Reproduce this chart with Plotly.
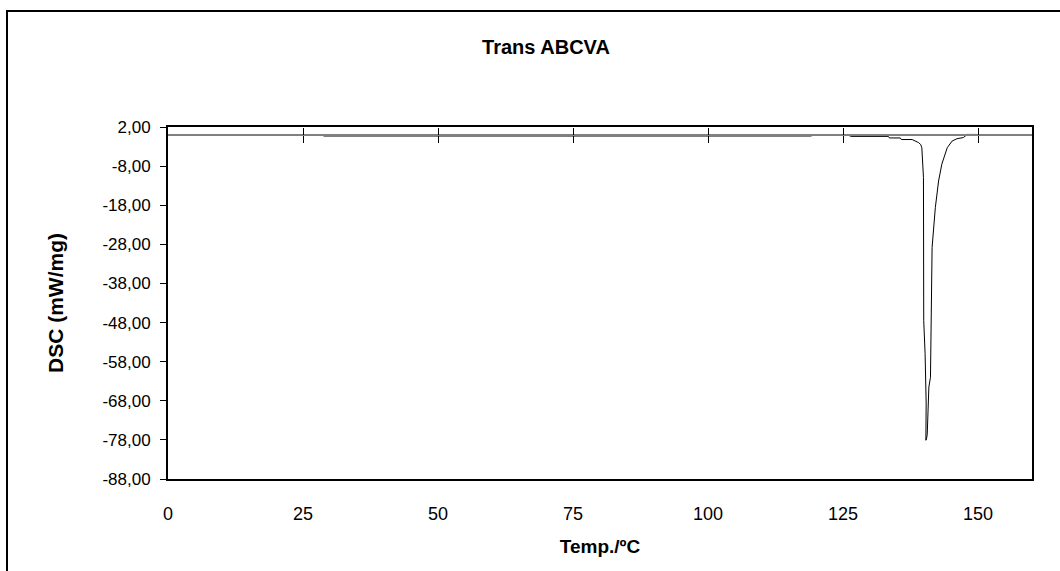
import plotly.graph_objects as go

# DSC curve (Temp in °C, DSC in mW/mg)
temp = [28.8, 40, 60, 80, 100, 119.0, 119.6, 126.0, 126.5, 130.0, 133.4, 133.6,
        135.6, 135.8, 137.8, 139.0, 139.4, 139.6, 139.9, 139.95, 140.2, 140.4,
        140.35, 140.5, 140.6, 140.9, 141.2, 141.5, 142.1, 142.7, 143.3, 144.3,
        145.2, 146.1, 147.3, 148.0, 149.8]
dsc = [-0.3, -0.3, -0.3, -0.3, -0.3, -0.3, -0.1, -0.1, -0.4, -0.4, -0.4, -0.8,
       -0.8, -1.2, -1.2, -2.0, -2.5, -3.3, -10.9, -47.5, -55.9, -68.6,
       -78.1, -77.5, -76.5, -64.5, -62.0, -28.8, -18.6, -11.8, -7.5, -3.3,
       -1.6, -1.0, -0.7, 0.1, 0.1]

x_ticks = [0, 25, 50, 75, 100, 125, 150]
x_cross_ticks = [25, 50, 75, 100, 125, 150]
y_ticks = [2, -8, -18, -28, -38, -48, -58, -68, -78, -88]
y_labels = ["2,00", "-8,00", "-18,00", "-28,00", "-38,00", "-48,00",
            "-58,00", "-68,00", "-78,00", "-88,00"]

title_text = "Trans ABCVA"
x_title = "Temp./ºC"
y_title = "DSC (mW/mg)"

FONT = "Liberation Sans, Arial, sans-serif"
x_range = [0, 160]
y_range = [-88, 2]
cross_pos = (0 - y_range[0]) / (y_range[1] - y_range[0])

fig = go.Figure()
fig.add_trace(go.Scatter(x=temp, y=dsc, mode="lines",
                         line=dict(color="black", width=1), showlegend=False,
                         hoverinfo="x+y"))
# empty traces so the crossing axes are bound
fig.add_trace(go.Scatter(x=[], y=[], xaxis="x2", yaxis="y", showlegend=False))
fig.add_trace(go.Scatter(x=[], y=[], xaxis="x3", yaxis="y", showlegend=False))

W, H = 1060, 571
L, R, T, B = 168, 28, 127, 92
pw = W - L - R
ph = H - T - B

fig.update_layout(
    width=W, height=H, autosize=False,
    margin=dict(l=L, r=R, t=T, b=B),
    paper_bgcolor="white", plot_bgcolor="white",
    font=dict(family=FONT, size=17, color="black"),
    title=dict(text=title_text, x=546 / W, xanchor="center",
               y=1 - 47 / H, yanchor="middle",
               font=dict(family=FONT, size=20, color="black", weight="bold")),
    xaxis=dict(range=x_range, tickvals=x_ticks, ticks="", showgrid=False,
               zeroline=False, showline=True, linecolor="black", linewidth=2,
               mirror=True, ticklabelstandoff=17,
               tickfont=dict(family=FONT, size=18),
               title=dict(text=x_title, standoff=17,
                          font=dict(family=FONT, size=19, weight="bold"))),
    xaxis2=dict(range=x_range, overlaying="x", anchor="free", position=cross_pos,
                side="bottom", tickvals=x_cross_ticks, ticks="outside", ticklen=7,
                tickwidth=1, tickcolor="black", showticklabels=False,
                showgrid=False, zeroline=False, showline=True,
                linecolor="#808080", linewidth=2),
    xaxis3=dict(range=x_range, overlaying="x", anchor="free", position=cross_pos,
                side="top", tickvals=x_cross_ticks, ticks="outside", ticklen=7,
                tickwidth=1, tickcolor="black", showticklabels=False,
                showgrid=False, zeroline=False, showline=False),
    yaxis=dict(range=y_range, tickvals=y_ticks, ticktext=y_labels,
               ticks="outside", ticklen=6, tickwidth=1, tickcolor="black",
               showgrid=False, zeroline=False, showline=True,
               linecolor="black", linewidth=2, mirror=True,
               ticklabelstandoff=6, tickfont=dict(family=FONT, size=17),
               title=dict(text=y_title, standoff=33,
                          font=dict(family=FONT, size=21, weight="bold"))),
)

# outer chart-area border (cropped at right and bottom like the reference)
fig.add_shape(type="rect", xref="paper", yref="paper",
              x0=(7 - L) / pw, x1=(1075 - L) / pw,
              y0=(H - B - 590) / ph, y1=(H - B - 11) / ph,
              line=dict(color="black", width=2), layer="below")

fig.write_html("out.html")
